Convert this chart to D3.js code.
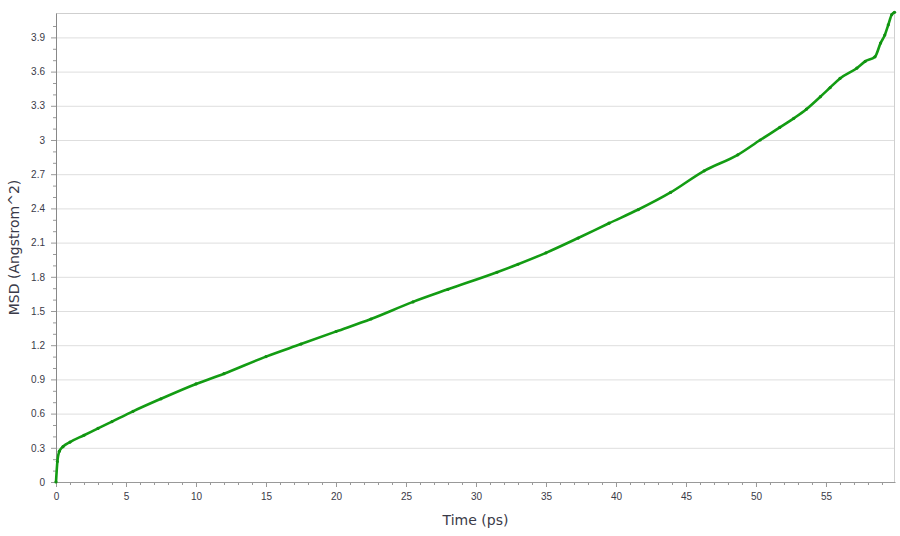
<!DOCTYPE html>
<html>
<head>
<meta charset="utf-8">
<script src="https://cdn.jsdelivr.net/npm/d3@7.9.0/dist/d3.min.js"></script>
<style>
  body { margin: 0; background: #fff; }
  svg { display: block; font-family: "DejaVu Sans", Verdana, sans-serif; }
  .tick text { fill: #3a3a48; font-size: 10px; }
</style>
</head>
<body>
<svg id="chart" width="900" height="536"></svg>
<script>
// values
const times = [0, 0.1, 0.24, 0.5, 1, 2, 3, 4, 5.5, 7.5, 10, 12, 15, 17.5, 20, 22.5, 25.5, 28,
  31.5, 33, 35, 37.3, 39.5, 41.6, 43.9, 46.3, 48.7, 50.3, 51.7, 52.7, 53.6, 54.6, 55.3, 56,
  57.2, 57.8, 58.5, 58.9, 59.2, 59.45, 59.7, 59.9];
const msd = [0, 0.18, 0.27, 0.31, 0.35, 0.41, 0.47, 0.53, 0.62, 0.73, 0.86, 0.95, 1.10, 1.21,
  1.32, 1.43, 1.58, 1.69, 1.84, 1.91, 2.01, 2.14, 2.27, 2.39, 2.54, 2.73, 2.87, 3.00, 3.11,
  3.19, 3.27, 3.38, 3.46, 3.54, 3.63, 3.69, 3.73, 3.85, 3.92, 4.01, 4.10, 4.12];
const xTicks = [0, 5, 10, 15, 20, 25, 30, 35, 40, 45, 50, 55];
const yTicks = [0, 0.3, 0.6, 0.9, 1.2, 1.5, 1.8, 2.1, 2.4, 2.7, 3, 3.3, 3.6, 3.9];

const width = 900, height = 536;
const margin = { top: 13, right: 5, bottom: 54, left: 56 };
const svg = d3.select('#chart');

const x = d3.scaleLinear().domain([0, 59.93]).range([margin.left, width - margin.right]);
const y = d3.scaleLinear().domain([0, 4.114]).range([height - margin.bottom, margin.top]);

const data = times.map((t, i) => ({ t, v: msd[i] }));

// gridlines
svg.append('g')
  .selectAll('line')
  .data(yTicks.slice(1))
  .join('line')
  .attr('x1', margin.left).attr('x2', width - margin.right)
  .attr('y1', d => y(d) + 0.5).attr('y2', d => y(d) + 0.5)
  .attr('stroke', '#dedede');

// top and right border
svg.append('path')
  .attr('d', `M${margin.left},${margin.top + 0.5}H${width - margin.right - 0.5}V${height - margin.bottom}`)
  .attr('fill', 'none')
  .attr('stroke', '#cfcfcf');

// minor ticks
const minorX = d3.range(0, 60, 1).filter(d => d % 5 !== 0);
const minorY = d3.range(0, 41, 1).map(d => d / 10).filter(d => Math.round(d * 10) % 3 !== 0);

svg.append('g')
  .attr('transform', `translate(0,${height - margin.bottom})`)
  .call(d3.axisBottom(x).tickValues(minorX).tickSize(3).tickFormat(''))
  .call(g => g.select('.domain').remove())
  .selectAll('line').attr('stroke', '#999');

svg.append('g')
  .attr('transform', `translate(${margin.left},0)`)
  .call(d3.axisLeft(y).tickValues(minorY).tickSize(3).tickFormat(''))
  .call(g => g.select('.domain').remove())
  .selectAll('line').attr('stroke', '#999');

// major axes
const xAxis = svg.append('g')
  .attr('transform', `translate(0,${height - margin.bottom})`)
  .call(d3.axisBottom(x).tickValues(xTicks).tickSize(5).tickPadding(6).tickSizeOuter(0));
xAxis.select('.domain').attr('stroke', '#999');
xAxis.selectAll('.tick line').attr('stroke', '#999');

const yAxis = svg.append('g')
  .attr('transform', `translate(${margin.left},0)`)
  .call(d3.axisLeft(y).tickValues(yTicks).tickSize(5).tickPadding(6).tickSizeOuter(0)
    .tickFormat(d3.format('~g')));
yAxis.select('.domain').attr('stroke', '#888');
yAxis.selectAll('.tick line').attr('stroke', '#999');

// axis titles
svg.append('text')
  .attr('x', (margin.left + width - margin.right) / 2)
  .attr('y', 525)
  .attr('text-anchor', 'middle')
  .attr('fill', '#3a3a48')
  .attr('font-size', 14)
  .text('Time (ps)');

svg.append('text')
  .attr('transform', `translate(19,${(margin.top + height - margin.bottom) / 2}) rotate(-90)`)
  .attr('text-anchor', 'middle')
  .attr('fill', '#3a3a48')
  .attr('font-size', 14)
  .text('MSD (Angstrom^2)');

// the MSD curve
const line = d3.line().x(d => x(d.t)).y(d => y(d.v)).curve(d3.curveMonotoneX);

svg.append('path')
  .datum(data)
  .attr('d', line)
  .attr('fill', 'none')
  .attr('stroke', '#139c13')
  .attr('stroke-width', 2.6)
  .attr('stroke-linejoin', 'round');

svg.append('g')
  .selectAll('circle')
  .data(data)
  .join('circle')
  .attr('cx', d => x(d.t))
  .attr('cy', d => y(d.v))
  .attr('r', 1.6)
  .attr('fill', '#119011');
</script>
</body>
</html>
